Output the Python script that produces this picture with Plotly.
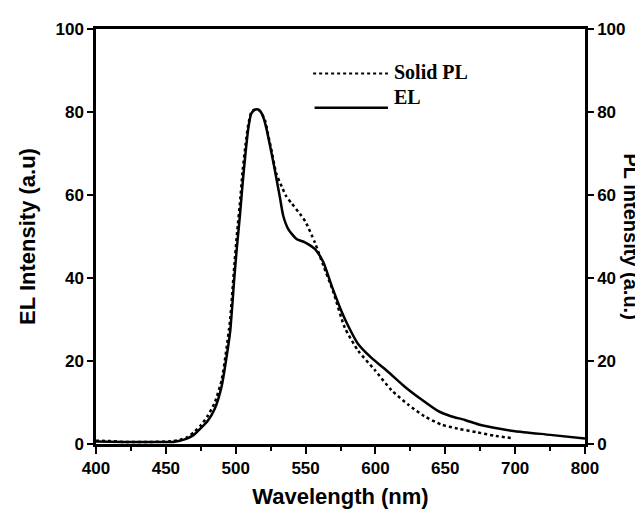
import plotly.graph_objects as go

# ---- data ----
el_x = [400, 420, 440, 455, 460, 465, 470, 475, 480, 485, 490, 493, 496, 499, 501, 503, 505, 507, 509, 511, 513, 516, 518, 520, 522, 524.5, 528, 531.6, 534, 537.6, 543.5, 549.5, 556.6, 562.6, 568.5, 575.7, 580, 587.6, 597, 609, 621, 633, 645, 654, 664, 674, 690, 700, 725, 750]
el_y = [0.6, 0.5, 0.5, 0.5, 0.8, 1.3, 2.2, 3.8, 5.6, 8.5, 14, 20, 27, 40, 48, 55, 63, 70, 76, 79.5, 80.4, 80.6, 80, 78.5, 76, 72, 66, 59.5, 55, 51.8, 49.4, 48.6, 47, 43.9, 38.3, 32, 28.8, 24.1, 20.8, 17.4, 13.8, 10.7, 7.9, 6.7, 5.8, 4.7, 3.6, 3.1, 2.2, 1.3]

pl_x = [400, 410, 420, 440, 455, 460, 465, 470, 475, 480, 485, 490, 493, 496, 499, 501, 503, 505, 507, 509, 511, 513, 516, 518, 521, 523.5, 525.6, 529, 533, 536, 540, 547, 550, 556.6, 562.6, 569.7, 578, 587.6, 599.6, 611.4, 623.4, 635, 647, 659, 673, 685, 698]
pl_y = [0.8, 0.7, 0.5, 0.5, 0.7, 1.0, 1.6, 2.8, 4.5, 6.8, 10, 15.5, 22, 30, 43, 51, 58, 66, 72, 77, 79.8, 80.5, 80.6, 80, 78, 74, 70.8, 65.2, 62, 59.8, 58, 55, 53.5, 48.6, 43.1, 36.8, 28.1, 22.5, 17.8, 13, 9.5, 6.7, 4.7, 3.7, 2.8, 2.0, 1.4]

x_tickvals = [400, 450, 500, 550, 600, 650, 700, 750]
x_ticktext = ["400", "450", "500", "550", "600", "650", "700", "800"]
y_tickvals = [0, 20, 40, 60, 80, 100]

legend_names = ["Solid PL", "EL"]

SANS = "Liberation Sans, Arial, sans-serif"
SERIF = "Liberation Serif, Times New Roman, serif"

fig = go.Figure()
fig.add_trace(go.Scatter(x=pl_x, y=pl_y, mode="lines", name=legend_names[0],
                         line=dict(color="black", width=2.5, dash="dot", shape="spline", smoothing=0.6),
                         showlegend=False))
fig.add_trace(go.Scatter(x=el_x, y=el_y, mode="lines", name=legend_names[1],
                         line=dict(color="black", width=2.5, shape="spline", smoothing=0.6),
                         showlegend=False))
# invisible trace to activate right axis
fig.add_trace(go.Scatter(x=[400], y=[0], yaxis="y2", mode="markers",
                         marker=dict(opacity=0), showlegend=False, hoverinfo="skip"))

tickfont = dict(family=SANS, size=17, color="black", weight="bold")
fig.update_layout(
    width=643, height=510,
    margin=dict(l=88, r=66, t=20, b=68),
    plot_bgcolor="white", paper_bgcolor="white",
    showlegend=False,
    xaxis=dict(range=[400, 750], tickvals=x_tickvals, ticktext=x_ticktext,
               ticks="outside", ticklen=7, tickwidth=2, tickcolor="black",
               minor=dict(dtick=25, tick0=400, ticks="outside", ticklen=4, tickwidth=2, tickcolor="black"),
               showline=True, linecolor="black", linewidth=2.5, mirror=True,
               showgrid=False, zeroline=False, tickfont=tickfont,
               title=dict(text="Wavelength (nm)", font=dict(family=SANS, size=22, color="black", weight="bold"),
                          standoff=12)),
    yaxis=dict(range=[0, 100], tickvals=y_tickvals,
               ticks="outside", ticklen=6, tickwidth=2, tickcolor="black",
               showline=True, linecolor="black", linewidth=2.5,
               showgrid=False, zeroline=False, tickfont=tickfont,
               title=dict(text="EL Intensity (a.u)", font=dict(family=SANS, size=22, color="black", weight="bold"),
                          standoff=14)),
    yaxis2=dict(range=[0, 100], tickvals=y_tickvals, overlaying="y", side="right",
                ticks="outside", ticklen=6, tickwidth=2, tickcolor="black",
                showline=True, linecolor="black", linewidth=2.5,
                showgrid=False, zeroline=False, tickfont=tickfont),
)

# right axis title (reads top-to-bottom)
fig.add_annotation(text="PL intensity (a.u.)", xref="paper", yref="paper", x=1.0, y=0.5,
                   xanchor="center", yanchor="middle", xshift=46, textangle=90, showarrow=False,
                   font=dict(family=SANS, size=20, color="black", weight="bold"))

# legend drawn manually
fig.add_shape(type="line", xref="paper", yref="paper", x0=0.444, x1=0.597, y0=0.893, y1=0.893,
              line=dict(color="black", width=2, dash="dot"))
fig.add_shape(type="line", xref="paper", yref="paper", x0=0.447, x1=0.597, y0=0.810, y1=0.810,
              line=dict(color="black", width=2.5))
fig.add_annotation(text=legend_names[0], xref="paper", yref="paper", x=0.605, y=0.897,
                   xanchor="left", yanchor="middle", showarrow=False,
                   font=dict(family=SERIF, size=20, color="black", weight="bold"))
fig.add_annotation(text=legend_names[1], xref="paper", yref="paper", x=0.605, y=0.836,
                   xanchor="left", yanchor="middle", showarrow=False,
                   font=dict(family=SERIF, size=20, color="black", weight="bold"))

fig.write_html("out.html")
